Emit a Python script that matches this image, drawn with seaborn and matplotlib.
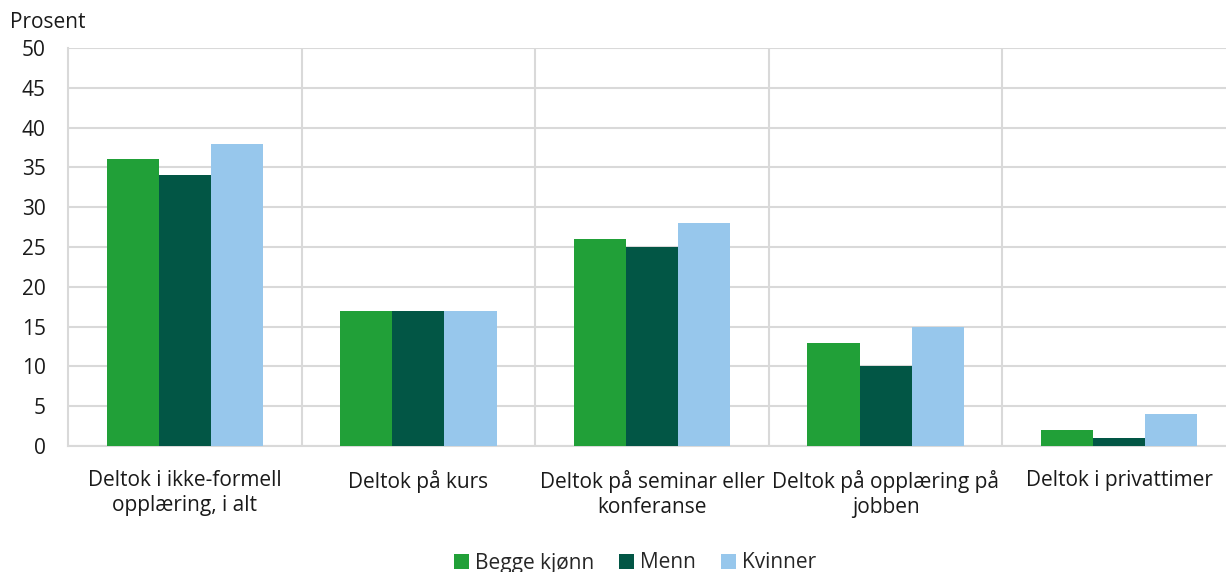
import pandas as pd
import seaborn as sns
import matplotlib.pyplot as plt
from matplotlib.ticker import FixedLocator

# Data
categories = [
    "Deltok i ikke-formell\nopplæring, i alt",
    "Deltok på kurs",
    "Deltok på seminar eller\nkonferanse",
    "Deltok på opplæring på\njobben",
    "Deltok i privattimer",
]
series = ["Begge kjønn", "Menn", "Kvinner"]
begge = [36, 17, 26, 13, 2]
menn = [34, 17, 25, 10, 1]
kvinner = [38, 17, 28, 15, 4]
colors = ["#21a038", "#025645", "#97c7ec"]

df = pd.DataFrame({
    "kategori": categories * 3,
    "gruppe": [s for s in series for _ in categories],
    "prosent": begge + menn + kvinner,
})

sns.set_theme(style="white")
plt.rcParams["font.family"] = ["Open Sans", "DejaVu Sans"]

fig = plt.figure(figsize=(12.26, 5.72), dpi=100)
# plot area runs a little past the right edge of the image
ax = fig.add_axes([68 / 1226, 1 - 446 / 572, (1236 - 68) / 1226, (446 - 48) / 572])

sns.barplot(
    data=df, x="kategori", y="prosent", hue="gruppe",
    palette=colors, saturation=1, width=0.67, gap=0, linewidth=0,
    ax=ax, zorder=3,
)

ax.set_ylim(0, 50)
ax.set_xlim(-0.5, 4.5)
ax.set_yticks(range(0, 51, 5))
ax.xaxis.set_minor_locator(FixedLocator([0.5, 1.5, 2.5, 3.5]))
ax.grid(axis="y", which="major", color="#d9d9d9", linewidth=1.5, zorder=0)
ax.grid(axis="x", which="minor", color="#d9d9d9", linewidth=1.5, zorder=0)
ax.grid(axis="x", which="major", visible=False)
ax.tick_params(axis="both", which="both", length=0, labelsize=15, colors="#1a1a1a")
ax.tick_params(axis="y", pad=16)
ax.tick_params(axis="x", pad=17)
for lbl in ax.get_xticklabels():
    lbl.set_linespacing(1.3)
ax.set_xlabel("")
ax.set_ylabel("")
for side in ["top", "right"]:
    ax.spines[side].set_visible(False)
for side in ["left", "bottom"]:
    ax.spines[side].set_color("#d9d9d9")
    ax.spines[side].set_linewidth(1.5)

fig.text(10 / 1226, 1 - 22 / 572, "Prosent", fontsize=15, color="#1a1a1a", va="center")

ax.legend(
    loc="center", bbox_to_anchor=(635 / 1226, 1 - 563 / 572),
    bbox_transform=fig.transFigure,
    ncol=3, frameon=False, fontsize=15, handlelength=0.7, handleheight=0.7,
    handletextpad=0.3, columnspacing=1.2,
)

fig.savefig("out.png", dpi=100)
